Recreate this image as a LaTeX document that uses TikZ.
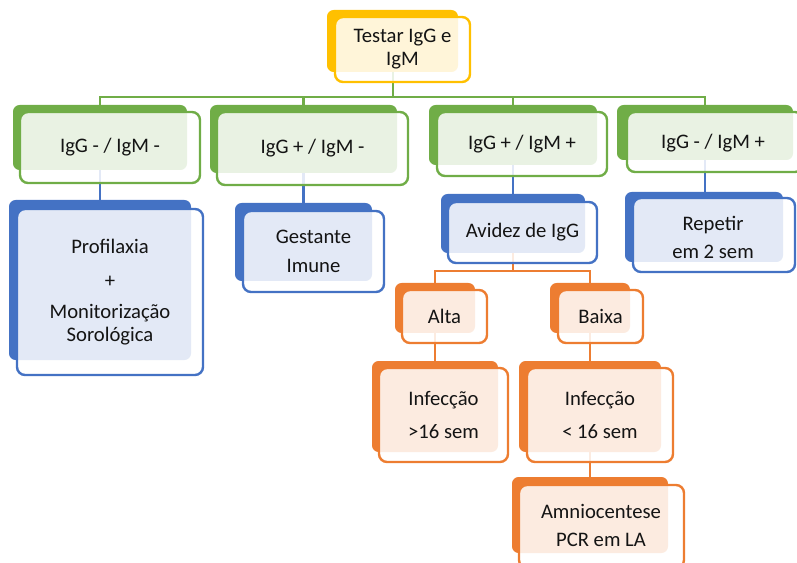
\documentclass[tikz,border=0pt]{standalone}
\usepackage{fontspec}
\setmainfont{Carlito}
\definecolor{grn}{RGB}{112,173,71}
\definecolor{blu}{RGB}{68,114,196}
\definecolor{org}{RGB}{237,125,49}
\definecolor{gld}{RGB}{255,192,0}
\definecolor{txt}{RGB}{20,20,20}

\begin{document}
\begin{tikzpicture}[x=0.75pt,y=-0.75pt]
        \tikzstyle{every node}+=[inner sep=0pt, align=center, text=txt, font=\fontsize{15.5}{17.3}\selectfont]
        \tikzstyle{back}=[rounded corners=5pt]
        \tikzstyle{front}=[line width=1.8pt, fill=white, fill opacity=0.85, rounded corners=6pt]
        \tikzstyle{link}=[line width=1.8pt]
        \useasboundingbox (0,0) rectangle (797,563);
        % centres of the back boxes
        \coordinate (testar-c) at (393,41);
        \coordinate (nn-c) at (100,137.5);
        \coordinate (pn-c) at (303.5,139);
        \coordinate (pp-c) at (513,135);
        \coordinate (np-c) at (705,132.5);
        \coordinate (prof-c) at (100,280);
        \coordinate (gest-c) at (303.5,242);
        \coordinate (avid-c) at (513,223.5);
        \coordinate (rep-c) at (705,227);
        \coordinate (alta-c) at (435,308);
        \coordinate (baixa-c) at (590,308);
        \coordinate (mais-c) at (435,406.5);
        \coordinate (menos-c) at (590,406.5);
        \coordinate (amnio-c) at (590,515);
        \coordinate (gbus) at (393,97);
        \coordinate (obus) at (513,271);
        % connectors
        \draw [link, grn] (testar-c) -- (gbus);
        \draw [link, grn] (nn-c) |- (gbus) -| (np-c);
        \draw [link, grn] (pn-c) |- (gbus) -| (pp-c);
        \draw [link, blu] (nn-c) -- (prof-c);
        \draw [link, blu] (pn-c) -- (gest-c);
        \draw [link, blu] (pp-c) -- (avid-c);
        \draw [link, blu] (np-c) -- (rep-c);
        \draw [link, org] (avid-c) -- (obus);
        \draw [link, org] (alta-c) |- (obus) -| (baixa-c);
        \draw [link, org] (alta-c) -- (mais-c);
        \draw [link, org] (baixa-c) -- (menos-c);
        \draw [link, org] (menos-c) -- (amnio-c);
        % top
        \fill [gld, back] (327,10) rectangle (458,72);
        \draw [gld, front] (335,17) rectangle (470,82);
        \node (testar) at (402.5,49.5) {Testar IgG e\\IgM};
        % green row
        \fill [grn, back] (13,105) rectangle (187,170);
        \draw [grn, front] (20,112) rectangle (200,183);
        \node (nn) at (110,147.5) {IgG - / IgM -};
        \fill [grn, back] (210,105) rectangle (397,173);
        \draw [grn, front] (217,112) rectangle (408,185);
        \node (pn) at (312.5,148.5) {IgG + / IgM -};
        \fill [grn, back] (429,105) rectangle (597,165);
        \draw [grn, front] (437,112) rectangle (607,176);
        \node (pp) at (522,144) {IgG + / IgM +};
        \fill [grn, back] (617,105) rectangle (793,160);
        \draw [grn, front] (627,112) rectangle (803,172);
        \node (np) at (713,143) {IgG - / IgM +};
        % blue row
        \fill [blu, back] (9,200) rectangle (191,360);
        \draw [blu, front] (17,209) rectangle (203,375);
        \node (prof) at (110,292) {Profilaxia\\[8pt]+\\[6pt]Monitorização\\Sorológica};
        \fill [blu, back] (235,203) rectangle (372,281);
        \draw [blu, front] (243,211) rectangle (384,292);
        \node (gest) at (313.5,251.5) {Gestante\\[5pt]Imune};
        \fill [blu, back] (441,194) rectangle (585,253);
        \draw [blu, front] (448,202) rectangle (597,263);
        \node (avid) at (522.5,232.5) {Avidez de IgG};
        \fill [blu, back] (625,192) rectangle (783,262);
        \draw [blu, front] (633,198) rectangle (795,272);
        \node (rep) at (713,237) {Repetir\\[3.75pt]em 2 sem};
        % orange rows
        \fill [org, back] (395,283) rectangle (475,333);
        \draw [org, front] (402,290) rectangle (487,343);
        \node (alta) at (444.5,316.5) {Alta};
        \fill [org, back] (550,283) rectangle (630,333);
        \draw [org, front] (558,290) rectangle (643,343);
        \node (baixa) at (600.5,316.5) {Baixa};
        \fill [org, back] (372,361) rectangle (498,452);
        \draw [org, front] (379,368) rectangle (508,462);
        \node (mais) at (443.5,415) {Infecção\\[6.75pt]>16 sem};
        \fill [org, back] (519,361) rectangle (661,452);
        \draw [org, front] (527,368) rectangle (673,462);
        \node (menos) at (600,415) {Infecção\\[6.75pt]< 16 sem};
        \fill [org, back] (512,477) rectangle (668,553);
        \draw [org, front] (519,485) rectangle (684,568);
        \node (amnio) at (601,525) {Amniocentese\\[3.75pt]PCR em LA};
      \end{tikzpicture}
\end{document}
